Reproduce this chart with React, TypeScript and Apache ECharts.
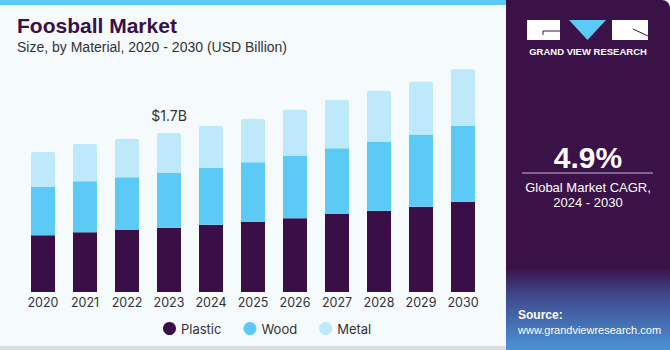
import React, { useEffect, useRef } from "react";
import * as echarts from "echarts";

const years = ["2020", "2021", "2022", "2023", "2024", "2025", "2026", "2027", "2028", "2029", "2030"];
const plastic = [0.606, 0.638, 0.663, 0.687, 0.719, 0.748, 0.788, 0.834, 0.869, 0.912, 0.965];
const wood = [0.516, 0.545, 0.563, 0.585, 0.609, 0.638, 0.669, 0.702, 0.738, 0.77, 0.812];
const metal = [0.374, 0.399, 0.409, 0.428, 0.446, 0.463, 0.489, 0.516, 0.542, 0.563, 0.603];
const seriesNames = ["Plastic", "Wood", "Metal"];
const colors = ["#3A0F47", "#5BCBF6", "#BDE9FA"];
const highlightIndex = 3;
const highlightLabel = "$1.7B";

export default function App() {
  const ref = useRef<HTMLDivElement>(null);
  useEffect(() => {
    const chart = echarts.init(ref.current!, null, { renderer: "svg" });
    const data = [plastic, wood, metal];
    const series: any[] = data.map((d, i) => ({
      name: seriesNames[i],
      type: "bar",
      stack: "total",
      barWidth: 24,
      data: d.map((v, j) => ({
        value: v,
        itemStyle: i === 2 ? { borderRadius: [2, 2, 0, 0] } : undefined,
        label:
          i === 2 && j === highlightIndex
            ? {
                show: true,
                position: "top",
                distance: 10,
                formatter: highlightLabel,
                fontSize: 14,
                color: "#333",
                fontFamily: "Inter",
              }
            : { show: false },
      })),
      itemStyle: { color: colors[i] },
    }));
    chart.setOption({
      animation: false,
      backgroundColor: "#F5FAFD",
      grid: { left: 22, right: 186, top: 58, bottom: 58 },
      xAxis: {
        type: "category",
        data: years,
        axisLine: { show: false },
        axisTick: { show: false },
        axisLabel: { interval: 0, fontSize: 12.5, color: "#333", fontFamily: "Inter", margin: 4 },
      },
      yAxis: { type: "value", min: 0, max: 2.5, show: false, splitLine: { show: false } },
      legend: {
        data: seriesNames,
        top: 317,
        left: 158,
        icon: "circle",
        itemWidth: 13,
        itemHeight: 13,
        itemGap: 22,
        textStyle: { fontSize: 13, color: "#333", fontFamily: "Inter" },
      },
      series,
      graphic: [
        { type: "rect", shape: { x: 0, y: 0, width: 506, height: 5 }, style: { fill: "#5BCBF6" } },
        { type: "rect", shape: { x: 0, y: 346, width: 506, height: 4 }, style: { fill: "#D9DDE0" } },
        {
          type: "text",
          left: 17,
          top: 15,
          style: { text: "Foosball Market", fontSize: 21, fontWeight: "bold", fill: "#3A0F47", fontFamily: "Liberation Sans" },
        },
        {
          type: "text",
          left: 17,
          top: 40,
          style: { text: "Size, by Material, 2020 - 2030 (USD Billion)", fontSize: 14, fill: "#333", fontFamily: "Liberation Sans" },
        },
        { type: "rect", shape: { x: 506, y: 0, width: 164, height: 350, r: [0, 8, 0, 0] }, style: { fill: "#3A1248" } },
        {
          type: "rect",
          shape: { x: 506, y: 268, width: 164, height: 82 },
          style: {
            fill: new echarts.graphic.LinearGradient(0, 0, 0, 1, [
              { offset: 0, color: "#3A1248" },
              { offset: 0.35, color: "#3F4A8F" },
              { offset: 1, color: "#4C93D6" },
            ]),
          },
        },
        { type: "rect", shape: { x: 527, y: 20, width: 33, height: 20 }, style: { fill: "#FFFFFF" } },
        { type: "line", shape: { x1: 543, y1: 31, x2: 560, y2: 31 }, style: { stroke: "#3A1248", lineWidth: 1 } },
        { type: "line", shape: { x1: 543, y1: 31, x2: 543, y2: 35 }, style: { stroke: "#3A1248", lineWidth: 1 } },
        { type: "polygon", shape: { points: [[569, 20], [606, 20], [587.5, 40]] }, style: { fill: "#5BCBF6" } },
        { type: "rect", shape: { x: 612, y: 20, width: 36, height: 20 }, style: { fill: "#FFFFFF" } },
        { type: "line", shape: { x1: 633, y1: 29, x2: 648, y2: 36 }, style: { stroke: "#3A1248", lineWidth: 1 } },
        {
          type: "text",
          x: 588,
          y: 51,
          style: { text: "GRAND VIEW RESEARCH", fontSize: 9.5, fontWeight: "bold", fill: "#FFFFFF", align: "center", verticalAlign: "middle", fontFamily: "Liberation Sans" },
        },
        {
          type: "text",
          x: 588,
          y: 157,
          style: { text: "4.9%", fontSize: 30, fontWeight: "bold", fill: "#FFFFFF", align: "center", verticalAlign: "middle", fontFamily: "Liberation Sans" },
        },
        { type: "line", shape: { x1: 522, y1: 173, x2: 653, y2: 173 }, style: { stroke: "#C9B8D0", lineWidth: 1 } },
        {
          type: "text",
          x: 588,
          y: 187,
          style: { text: "Global Market CAGR,", fontSize: 13, fill: "#FFFFFF", align: "center", verticalAlign: "middle", fontFamily: "Liberation Sans" },
        },
        {
          type: "text",
          x: 588,
          y: 202,
          style: { text: "2024 - 2030", fontSize: 13, fill: "#FFFFFF", align: "center", verticalAlign: "middle", fontFamily: "Liberation Sans" },
        },
        {
          type: "text",
          x: 518,
          y: 315,
          style: { text: "Source:", fontSize: 12, fontWeight: "bold", fill: "#FFFFFF", verticalAlign: "middle", fontFamily: "Liberation Sans" },
        },
        {
          type: "text",
          x: 518,
          y: 330,
          style: { text: "www.grandviewresearch.com", fontSize: 11, fill: "#FFFFFF", verticalAlign: "middle", fontFamily: "Liberation Sans" },
        },
      ],
    });
    return () => chart.dispose();
  }, []);
  return <div ref={ref} style={{ width: 670, height: 350, position: "absolute", left: 0, top: 0 }} />;
}
